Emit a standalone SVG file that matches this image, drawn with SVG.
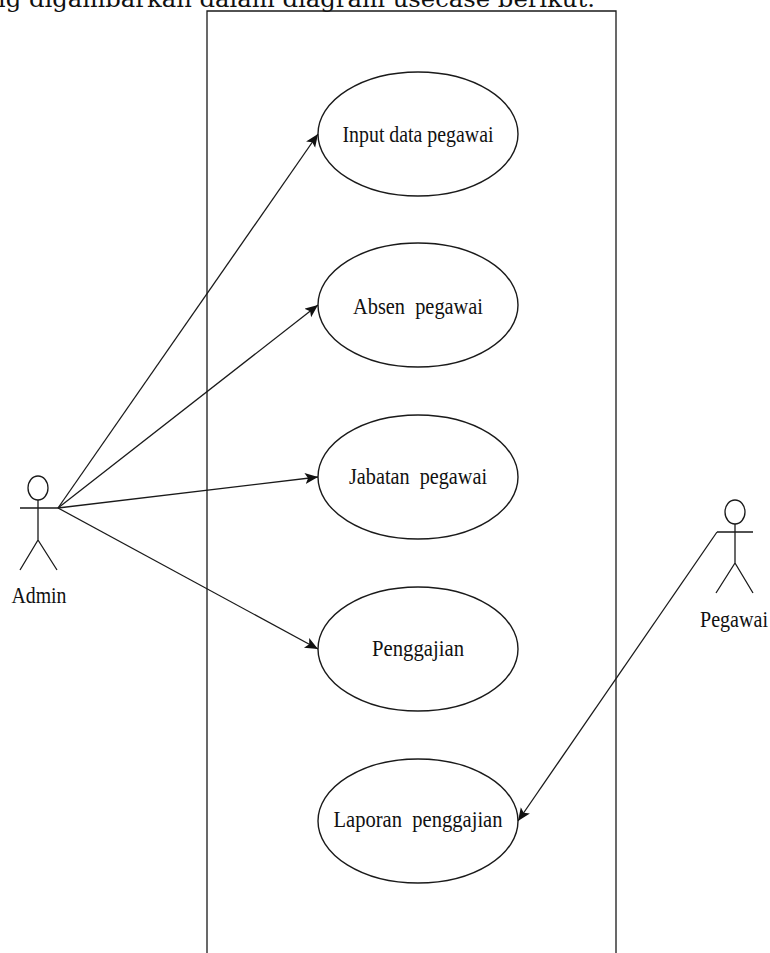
<svg xmlns="http://www.w3.org/2000/svg" width="770" height="953" viewBox="0 0 770 953" xml:space="preserve">
<style>
.ln{stroke:#1a1a1a;stroke-width:1.3;fill:none}
.uc{stroke:#1a1a1a;stroke-width:1.4;fill:#fff}
.lbl{font-family:"Liberation Serif","Times New Roman",serif;font-size:24px;fill:#111;text-anchor:middle;white-space:pre}
.top{font-family:"DejaVu Serif","Liberation Serif",serif;font-size:22px;fill:#111}
</style>
<defs>
<marker id="arr" markerUnits="userSpaceOnUse" markerWidth="16" markerHeight="12" refX="13" refY="5.5" orient="auto">
<path d="M0,0 L13,5.5 L0,11 L3,5.5 Z" fill="#111"/>
</marker>
</defs>
<rect width="770" height="953" fill="#fff"/>
<text class="top" x="-10" y="7" textLength="605" lengthAdjust="spacingAndGlyphs">ng digambarkan dalam diagram usecase berikut.</text>
<g id="boundary">
<path class="ln" d="M207,953 L207,11 L616,11 L616,953"/>
</g>
<g id="admin">
<ellipse class="ln" cx="38" cy="488" rx="10" ry="12"/>
<path class="ln" d="M20,508 L58,508 M38,500 L38,540 M38,540 L20,570 M38,540 L57,570"/>
<text class="lbl" x="39" y="603" textLength="55" lengthAdjust="spacingAndGlyphs">Admin</text>
</g>
<g id="pegawai">
<ellipse class="ln" cx="735" cy="512" rx="10" ry="12"/>
<path class="ln" d="M717,532 L753,532 M735,524 L735,563 M735,563 L716,593 M735,563 L753,593"/>
<text class="lbl" x="734" y="627" textLength="68" lengthAdjust="spacingAndGlyphs">Pegawai</text>
</g>
<g id="uc1">
<ellipse class="uc" cx="418" cy="134" rx="100" ry="62"/>
<text class="lbl" x="418" y="142" textLength="151" lengthAdjust="spacingAndGlyphs">Input data pegawai</text>
</g>
<g id="uc2">
<ellipse class="uc" cx="418" cy="305" rx="100" ry="62"/>
<text class="lbl" x="418" y="314" textLength="130" lengthAdjust="spacingAndGlyphs">Absen  pegawai</text>
</g>
<g id="uc3">
<ellipse class="uc" cx="418" cy="477" rx="100" ry="62"/>
<text class="lbl" x="418" y="484" textLength="138" lengthAdjust="spacingAndGlyphs">Jabatan  pegawai</text>
</g>
<g id="uc4">
<ellipse class="uc" cx="418" cy="649" rx="100" ry="62"/>
<text class="lbl" x="418" y="656" textLength="92" lengthAdjust="spacingAndGlyphs">Penggajian</text>
</g>
<g id="uc5">
<ellipse class="uc" cx="418" cy="821" rx="100" ry="62"/>
<text class="lbl" x="418" y="827" textLength="169" lengthAdjust="spacingAndGlyphs">Laporan  penggajian</text>
</g>
<g id="connectors">
<path class="ln" marker-end="url(#arr)" d="M58,508 L318,134"/>
<path class="ln" marker-end="url(#arr)" d="M58,508 L318,305"/>
<path class="ln" marker-end="url(#arr)" d="M58,508 L318,477"/>
<path class="ln" marker-end="url(#arr)" d="M58,508 L318,649"/>
<path class="ln" marker-end="url(#arr)" d="M717,532 L518,821"/>
</g>
</svg>
